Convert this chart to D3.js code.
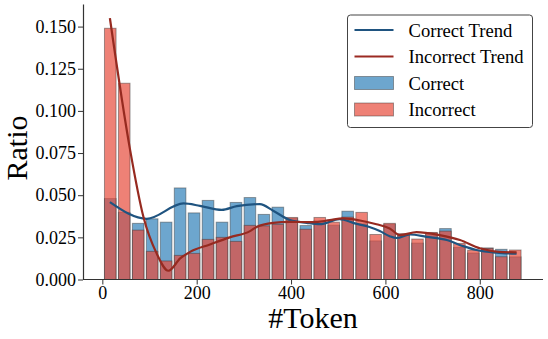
<!DOCTYPE html>
<html>
<head>
<meta charset="utf-8">
<script src="https://cdn.jsdelivr.net/npm/d3@7"></script>
<style>
  body { margin: 0; background: #fff; }
  svg { display: block; font-family: "Times New Roman", "Liberation Serif", serif; }
</style>
</head>
<body>
<svg id="chart" width="548" height="339"></svg>
<script>
// histogram bins (token counts)
var binStart = 2;
var binWidth = 29.6;

// bar heights (ratio per bin)
var correctRatio = [0.0480, 0.0398, 0.0333, 0.0360, 0.0340, 0.0543, 0.0395, 0.0469, 0.0340, 0.0457,
                    0.0486, 0.0386, 0.0429, 0.0363, 0.0320, 0.0348, 0.0322, 0.0405, 0.0330, 0.0229,
                    0.0328, 0.0265, 0.0216, 0.0276, 0.0302, 0.0190, 0.0157, 0.0187, 0.0179, 0.0134];
var incorrectRatio = [0.1490, 0.1164, 0.0293, 0.0167, 0.0110, 0.0143, 0.0155, 0.0238, 0.0250, 0.0226,
                      0.0321, 0.0318, 0.0327, 0.0368, 0.0298, 0.0368, 0.0340, 0.0370, 0.0398, 0.0267,
                      0.0333, 0.0272, 0.0240, 0.0279, 0.0287, 0.0214, 0.0174, 0.0185, 0.0135, 0.0175];

// smoothed trend curves
var correctTrendX = [16, 94, 172, 207, 253, 285, 334, 362, 398, 433, 461, 503, 535, 563, 588, 609,
                     624, 652, 687, 730, 765, 793, 835, 878];
var correctTrendY = [0.0459, 0.0360, 0.0451, 0.0437, 0.0413, 0.0435, 0.0447, 0.0408, 0.0352, 0.0336,
                     0.0328, 0.0358, 0.0333, 0.0314, 0.0287, 0.0257, 0.0246, 0.0267, 0.0253, 0.0234,
                     0.0198, 0.0175, 0.0159, 0.0153];
var incorrectTrendX = [16, 59, 87, 115, 140, 165, 186, 228, 270, 313, 327, 362, 398, 447, 482, 510,
                       546, 581, 609, 631, 666, 715, 758, 800, 842, 878];
var incorrectTrendY = [0.1550, 0.0766, 0.0372, 0.0155, 0.0052, 0.0125, 0.0164, 0.0208, 0.0250, 0.0287,
                       0.0312, 0.0336, 0.0342, 0.0340, 0.0352, 0.0362, 0.0350, 0.0328, 0.0303, 0.0263,
                       0.0281, 0.0263, 0.0234, 0.0185, 0.0164, 0.0161];

var xTicks = [0, 200, 400, 600, 800];
var yTicks = [0, 0.025, 0.05, 0.075, 0.1, 0.125, 0.15];

var legendItems = [
  {label: 'Correct Trend', type: 'line', color: '#1f5480'},
  {label: 'Incorrect Trend', type: 'line', color: '#9b2a22'},
  {label: 'Correct', type: 'bar', color: 'rgb(31,119,180)', alpha: 0.65},
  {label: 'Incorrect', type: 'bar', color: 'rgb(231,76,60)', alpha: 0.7}
];

var svg = d3.select('#chart');
var plotLeft = 83, plotRight = 543, plotTop = 4, plotBottom = 279.5;

var x = d3.scaleLinear().domain([-41, 934]).range([plotLeft, plotRight]);
var y = d3.scaleLinear().domain([0, 0.1634]).range([plotBottom, plotTop]);

// build bins
function makeBars(values) {
  return values.map(function(v, i) {
    return {x0: binStart + i * binWidth, x1: binStart + (i + 1) * binWidth, v: v};
  });
}
var shrink = 0.83;

function drawBars(values, color, alpha, cls) {
  svg.append('g').attr('class', cls)
    .selectAll('rect')
    .data(makeBars(values))
    .enter().append('rect')
      .attr('x', function(d) {
        var w = (x(d.x1) - x(d.x0));
        return x(d.x0) + w * (1 - shrink) / 2;
      })
      .attr('width', function(d) { return (x(d.x1) - x(d.x0)) * shrink; })
      .attr('y', function(d) { return y(d.v); })
      .attr('height', function(d) { return y(0) - y(d.v); })
      .attr('fill', color)
      .attr('fill-opacity', alpha)
      .attr('stroke', '#333')
      .attr('stroke-opacity', 0.45)
      .attr('stroke-width', 1);
}

drawBars(correctRatio, 'rgb(31,119,180)', 0.65, 'correct');
drawBars(incorrectRatio, 'rgb(231,76,60)', 0.7, 'incorrect');

// trend lines
var line = d3.line()
  .x(function(d) { return x(d[0]); })
  .y(function(d) { return y(d[1]); })
  .curve(d3.curveMonotoneX);

svg.append('path')
  .datum(d3.zip(correctTrendX, correctTrendY))
  .attr('d', line)
  .attr('fill', 'none')
  .attr('stroke', '#1f5480')
  .attr('stroke-width', 2.2);

svg.append('path')
  .datum(d3.zip(incorrectTrendX, incorrectTrendY))
  .attr('d', line)
  .attr('fill', 'none')
  .attr('stroke', '#962a20')
  .attr('stroke-width', 2.2);

// axes
var xAxis = svg.append('g')
  .attr('transform', 'translate(0,' + plotBottom + ')')
  .call(d3.axisBottom(x).tickValues(xTicks).tickSize(5).tickPadding(2).tickSizeOuter(0));
var yAxis = svg.append('g')
  .attr('transform', 'translate(' + plotLeft + ',0)')
  .call(d3.axisLeft(y).tickValues(yTicks).tickFormat(d3.format('.3f')).tickSize(5).tickPadding(2).tickSizeOuter(0));

[xAxis, yAxis].forEach(function(a) {
  a.select('.domain').attr('stroke', '#333').attr('stroke-width', 1.2);
  a.selectAll('.tick line').attr('stroke', '#333');
  a.selectAll('.tick text')
    .attr('fill', '#000')
    .style('font-size', '18px')
    .style('font-family', '"Times New Roman", "Liberation Serif", serif');
});
// x axis line spans whole plot width
xAxis.select('.domain').attr('d', 'M' + plotLeft + ',0H' + plotRight);

// axis labels
svg.append('text')
  .attr('x', (plotLeft + plotRight) / 2)
  .attr('y', 328)
  .attr('text-anchor', 'middle')
  .style('font-size', '30px')
  .text('#Token');

svg.append('text')
  .attr('transform', 'translate(27,148) rotate(-90)')
  .attr('text-anchor', 'middle')
  .style('font-size', '30px')
  .text('Ratio');

// legend
var legend = svg.append('g').attr('transform', 'translate(347.5,15)');
legend.append('rect')
  .attr('width', 185)
  .attr('height', 112.5)
  .attr('rx', 3)
  .attr('fill', '#fff')
  .attr('stroke', '#444')
  .attr('stroke-width', 1);

legendItems.forEach(function(item, i) {
  var cy = 15 + i * 26.5;
  var g = legend.append('g').attr('transform', 'translate(0,' + cy + ')');
  if (item.type === 'line') {
    g.append('line')
      .attr('x1', 7).attr('x2', 46)
      .attr('stroke', item.color)
      .attr('stroke-width', 2);
  } else {
    g.append('rect')
      .attr('x', 7).attr('y', -6.5)
      .attr('width', 39).attr('height', 13)
      .attr('fill', item.color)
      .attr('fill-opacity', item.alpha)
      .attr('stroke', '#333')
      .attr('stroke-opacity', 0.45);
  }
  g.append('text')
    .attr('x', 61)
    .attr('y', 6.5)
    .style('font-size', '18.6px')
    .text(item.label);
});
</script>
</body>
</html>
